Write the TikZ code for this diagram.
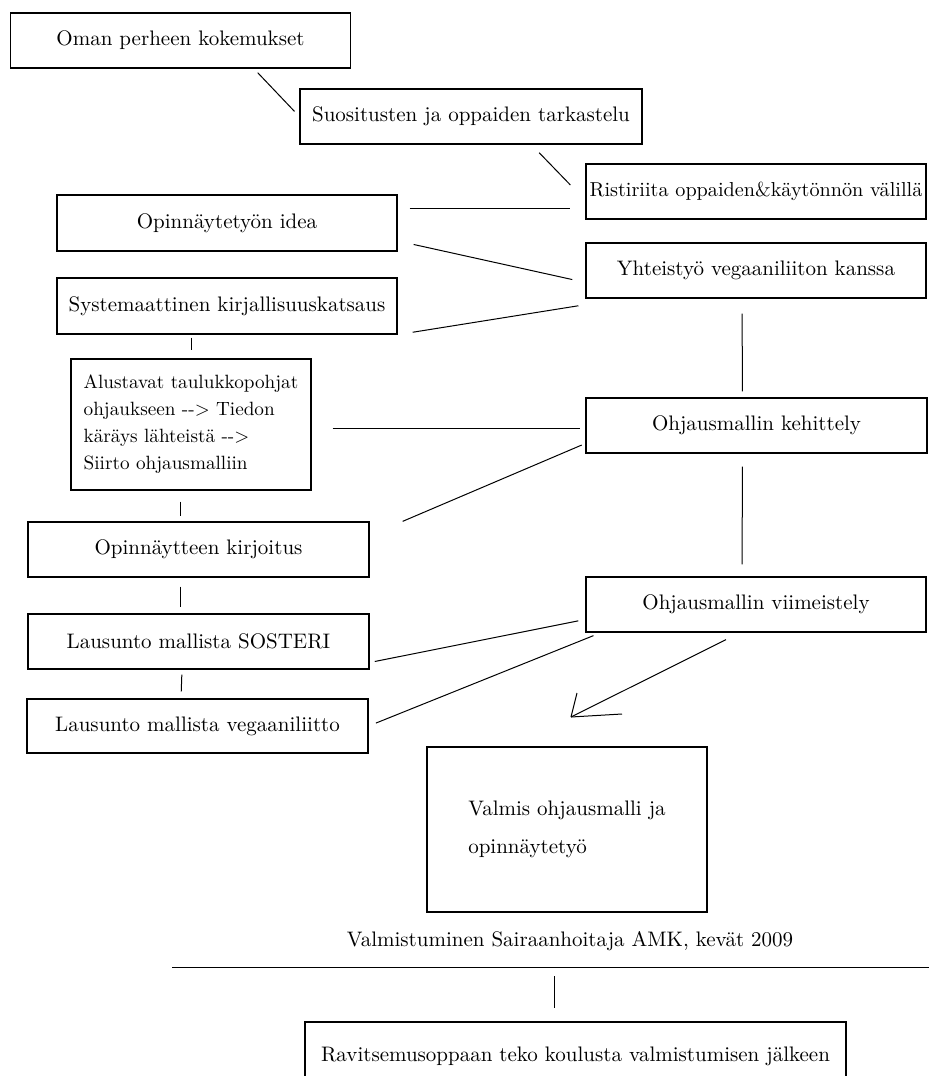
\documentclass[tikz,border=0pt]{standalone}
\usepackage{tikz}
\usetikzlibrary{arrows.meta,positioning,calc}

\begin{document}
\begin{tikzpicture}[x=0.5pt,y=-0.5pt,line width=0.5pt,
 every node/.style={align=center,font=\fontsize{10.5}{13.5}\selectfont},
 phase/.style={draw,line width=0.65pt,inner sep=1pt,minimum width=170pt,minimum height=27.5pt}]
\useasboundingbox (0,0) rectangle (929,1076);
\node[phase] (oman) at (180.5,40.5) {Oman perheen kokemukset};
\node[phase,minimum width=171pt] (suos) at (471,116.5) {Suositusten ja oppaiden tarkastelu};
\node[phase,inner xsep=0pt,font=\fontsize{10.1}{13.5}\selectfont] (risti) at (756,191.5) {Ristiriita oppaiden\&käytönnön välillä};
\node[phase] (yht) at (756,270.5) {Yhteistyö vegaaniliiton kanssa};
\node[phase,minimum height=28pt] (idea) at (227,223) {Opinnäytetyön idea};
\node[phase,minimum height=28pt] (syst) at (227,306) {Systemaattinen kirjallisuuskatsaus};
\node[phase,minimum width=120pt,minimum height=65.5pt,align=left,
 font=\fontsize{9.6}{13.5}\selectfont] (alust) at (191,424.5)
 {Alustavat taulukkopohjat\\ohjaukseen -{}-> Tiedon\\käräys lähteistä -{}->\\Siirto ohjausmalliin};
\node[phase,minimum width=170.5pt] (kehit) at (756.5,425.5) {Ohjausmallin kehittely};
\node[phase,minimum width=170.5pt] (kirj) at (198.5,549.5) {Opinnäytteen kirjoitus};
\node[phase] (viim) at (756,604.5) {Ohjausmallin viimeistely};
\node[phase,minimum width=170.5pt] (soster) at (198.5,641.5) {Lausunto mallista SOSTERI};
\node[phase,minimum width=170.5pt,minimum height=27pt] (vegaan) at (197.5,726) {Lausunto mallista vegaaniliitto};
\node[phase,minimum width=140pt,minimum height=82.5pt,align=left,
 font=\fontsize{10.5}{19}\selectfont] (valmis) at (567,829.5) {Valmis ohjausmalli ja\\opinnäytetyö};
\node (grad) at (570,941) {Valmistuminen Sairaanhoitaja AMK, kevät 2009};
\node[phase,minimum width=270.5pt,minimum height=34pt] (ravit) at (575.5,1056) {Ravitsemusoppaan teko koulusta valmistumisen jälkeen};
\coordinate (sepL) at (172,967);
\coordinate (sepR) at (929,967);
\coordinate (sepM) at (554,967);
\coordinate (tip) at (571,717);
\draw[shorten <=2.8pt,shorten >=3.5pt] (oman.-21.6)--(suos.west);
\draw[shorten <=5.6pt,shorten >=10.8pt] (suos.-25)--(risti.183.4);
\draw[shorten <=6pt,shorten >=7.5pt] ([yshift=7.5pt]idea.east)--([yshift=7.5pt]idea.east -| risti.west);
\draw[shorten <=8.2pt,shorten >=6.7pt] (idea.-6.5)--(yht.184.8);
\draw[shorten <=7.6pt,shorten >=3.5pt] (syst.south east)--([yshift=-3pt]yht.south west);
\draw[shorten <=1.5pt,shorten >=4pt] (alust.north |- syst.south)--(alust.north);
\draw[shorten <=7.5pt,shorten >=3pt] ([xshift=-7pt]yht.south)--([xshift=-7pt]kehit.north);
\draw[shorten <=10.5pt,shorten >=2.5pt] ([yshift=-2pt]alust.east)--([yshift=-2pt]alust.east -| kehit.west);
\draw[shorten <=2pt] (kehit.186)--([xshift=16.5pt]kirj.north east);
\draw[shorten <=6.5pt,shorten >=6pt] ([xshift=-7pt]kehit.south)--([xshift=-7pt]viim.north);
\draw[shorten <=5.5pt,shorten >=2.5pt] ([xshift=-5.5pt]alust.south)--([xshift=-5.5pt]alust.south |- kirj.north);
\draw[shorten <=4.5pt,shorten >=3pt] ([xshift=-9.25pt]kirj.south)--([xshift=-9.25pt]soster.north);
\draw[shorten <=2.5pt,shorten >=3.5pt] ([xshift=-8.25pt]soster.south)--([xshift=-8.25pt]vegaan.north);
\draw[shorten <=2.6pt,shorten >=3.6pt] (soster.-7.85)--(viim.185);
\draw[shorten <=3.9pt,shorten >=4pt] (vegaan.east)--([xshift=7.75pt]viim.south west);
\draw[shorten <=7.8pt] ([xshift=-8pt]viim.south)--(tip);
\draw (tip)--++(6,-24) (tip)--++(51,-3);
\draw (sepL)--(sepR);
\draw[shorten <=4.5pt,shorten >=6.5pt] (sepM)--(sepM |- ravit.north);
\end{tikzpicture}
\end{document}
